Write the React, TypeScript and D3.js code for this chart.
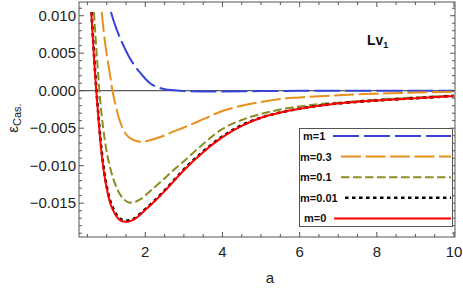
import React from "react";
import * as d3 from "d3";

type P = [number, number];

const seriesNames = ["m=1", "m=0.3", "m=0.1", "m=0.01", "m=0"];

const m1: P[] = [[1.11, 0.0105],[1.2, 0.0090],[1.3, 0.0076],[1.4, 0.0064],[1.55, 0.0048],[1.7, 0.0035],[1.85, 0.0025],[2.0, 0.0016],[2.15, 0.0009],[2.3, 0.0005],[2.5, 0.0002],[2.75, 0.00005],[3.0, -0.00005],[3.5, -0.0001],[4.0, -0.0001],[5.0, -0.00005],[6.0, -0.00002],[8.0, 0.0],[10.0, 0.0]];

const m03: P[] = [[0.87, 0.0105],[0.92, 0.0080],[0.97, 0.0059],[1.03, 0.0039],[1.08, 0.0023],[1.15, 0.0],[1.22, -0.0017],[1.32, -0.0037],[1.42, -0.0051],[1.55, -0.0061],[1.70, -0.0066],[1.88, -0.0068],[2.05, -0.0067],[2.25, -0.0064],[2.53, -0.0059],[2.75, -0.0054],[3.0, -0.0049],[3.5, -0.0038],[4.0, -0.0027],[4.5, -0.0020],[5.0, -0.0015],[5.5, -0.0011],[6.0, -0.0009],[7.0, -0.0006],[8.0, -0.0004],[9.0, -0.00025],[10.0, -0.00012]];

const m01: P[] = [[0.67, 0.0105],[0.72, 0.0064],[0.77, 0.0028],[0.81, 0.0],[0.87, -0.0033],[0.94, -0.0062],[1.02, -0.0087],[1.10, -0.0105],[1.20, -0.0122],[1.32, -0.0136],[1.45, -0.0145],[1.60, -0.01493],[1.75, -0.0148],[1.90, -0.0144],[2.1, -0.0135],[2.3, -0.0126],[2.5, -0.0117],[2.75, -0.0105],[3.0, -0.0094],[3.5, -0.0071],[4.0, -0.0051],[4.5, -0.0039],[5.0, -0.0031],[5.5, -0.0025],[6.0, -0.0021],[6.5, -0.0018],[7.0, -0.0016],[8.0, -0.0012],[9.0, -0.0009],[10.0, -0.00065]];

const m001: P[] = [[0.605, 0.0105],[0.655, 0.0062],[0.705, 0.0021],[0.735, 0.0],[0.785, -0.0033],[0.835, -0.0063],[0.885, -0.0088],[0.935, -0.0108],[1.005, -0.0129],[1.085, -0.0146],[1.175, -0.0158],[1.275, -0.0167],[1.40, -0.0172],[1.54, -0.01732],[1.70, -0.0171],[1.85, -0.0165],[2.0, -0.0158],[2.25, -0.0146],[2.5, -0.0133],[2.75, -0.0119],[3.0, -0.0105],[3.5, -0.0081],[4.0, -0.0061],[4.5, -0.0046],[5.0, -0.0036],[5.5, -0.0029],[6.0, -0.0024],[6.5, -0.0020],[7.0, -0.0017],[8.0, -0.0013],[9.0, -0.0010],[10.0, -0.0007]];

const m0: P[] = [[0.60, 0.0105],[0.65, 0.0062],[0.70, 0.0021],[0.73, 0.0],[0.78, -0.0033],[0.83, -0.0064],[0.88, -0.0089],[0.93, -0.0109],[1.00, -0.0130],[1.08, -0.0148],[1.17, -0.0160],[1.27, -0.0169],[1.40, -0.0174],[1.54, -0.01747],[1.70, -0.0172],[1.85, -0.0166],[2.0, -0.0159],[2.25, -0.0147],[2.5, -0.0134],[2.75, -0.0120],[3.0, -0.0106],[3.5, -0.0082],[4.0, -0.0062],[4.5, -0.0047],[5.0, -0.0036],[5.5, -0.0029],[6.0, -0.0024],[6.5, -0.0020],[7.0, -0.0017],[8.0, -0.0013],[9.0, -0.0010],[10.0, -0.0007]];

const xMajor = [2, 4, 6, 8, 10];
const yMajor = [0.01, 0.005, 0, -0.005, -0.01, -0.015];
const yTickLabels = ["0.010", "0.005", "0.000", "\u22120.005", "\u22120.010", "\u22120.015"];

const seriesData = [m1, m03, m01, m001, m0];
const colors = ["#3543d6", "#e8901c", "#8c8c22", "#000000", "#ff0000"];
const dashes = ["26,5", "20,4.5", "8.5,3.5", "3.5,3.5", "none"];
const widths = [2, 2, 2, 2.6, 2];
const legendTextX = [303, 300, 300, 300, 304];
const legendLineX = [333, 341, 341, 345, 334];

export default function App() {
  const L = 79, R = 455, T = 2, B = 237;
  const x = d3.scaleLinear().domain([0.282, 10.026]).range([L, R]);
  const y = d3.scaleLinear().domain([-0.01951, 0.01183]).range([B, T]);
  const line = d3.line<P>().x(d => x(d[0])).y(d => y(d[1])).curve(d3.curveMonotoneX);

  const xMinor = d3.range(0.5, 10.01, 0.5).filter(v => !xMajor.includes(v));
  const yMinor = d3.range(-19, 12, 1).map(v => v / 1000).filter(v => Math.abs(Math.round(v * 1000) % 5) !== 0);
  const frame = "#555";
  const font = "'Liberation Sans', Arial, sans-serif";

  return (
    <svg width={463} height={290} style={{ position: "absolute", left: 0, top: 0 }} fontFamily={font}>
      <defs>
        <clipPath id="plotclip"><rect x={L} y={T} width={R - L} height={B - T} /></clipPath>
      </defs>
      <rect x={0} y={0} width={463} height={290} fill="#fff" />
      {/* zero line */}
      <line x1={L} x2={R} y1={y(0)} y2={y(0)} stroke="#333" strokeWidth={1} />
      <g clipPath="url(#plotclip)">
        {seriesData.map((d, i) => (
          <path key={i} d={line(d) || ""} fill="none" stroke={colors[i]} strokeWidth={widths[i]}
            strokeDasharray={dashes[i]} />
        ))}
      </g>
      {/* frame */}
      <rect x={L} y={T} width={R - L} height={B - T} fill="none" stroke={frame} strokeWidth={1} />
      {/* x ticks */}
      {xMajor.map(v => (
        <g key={"xM" + v}>
          <line x1={x(v)} x2={x(v)} y1={B} y2={B - 5} stroke={frame} />
          <line x1={x(v)} x2={x(v)} y1={T} y2={T + 5} stroke={frame} />
          <text x={x(v)} y={257} fontSize={15} textAnchor="middle" fill="#222">{v}</text>
        </g>
      ))}
      {xMinor.map(v => (
        <g key={"xm" + v}>
          <line x1={x(v)} x2={x(v)} y1={B} y2={B - 3} stroke={frame} />
          <line x1={x(v)} x2={x(v)} y1={T} y2={T + 3} stroke={frame} />
        </g>
      ))}
      {/* y ticks */}
      {yMajor.map((v, i) => (
        <g key={"yM" + v}>
          <line x1={L} x2={L + 5} y1={y(v)} y2={y(v)} stroke={frame} />
          <line x1={R} x2={R - 5} y1={y(v)} y2={y(v)} stroke={frame} />
          <text x={76} y={y(v) + 5} fontSize={15} textAnchor="end" fill="#222">{yTickLabels[i]}</text>
        </g>
      ))}
      {yMinor.map(v => (
        <g key={"ym" + v}>
          <line x1={L} x2={L + 3} y1={y(v)} y2={y(v)} stroke={frame} />
          <line x1={R} x2={R - 3} y1={y(v)} y2={y(v)} stroke={frame} />
        </g>
      ))}
      {/* axis labels */}
      <text x={270} y={283} fontSize={15} textAnchor="middle" fill="#222">a</text>
      <text transform="translate(18,118) rotate(-90)" fontSize={15} textAnchor="middle" fill="#222">
        ε<tspan fontSize={11} dy={3}>Cas.</tspan>
      </text>
      <text x={367} y={45} fontSize={14} fontWeight="bold" fill="#111">Lv<tspan fontSize={9} dy={3}>1</tspan></text>
      {/* legend */}
      <rect x={299.5} y={128.5} width={153} height={98} fill="#fff" stroke="#555" strokeWidth={1} />
      {seriesNames.map((n, i) => {
        const ly = 136 + i * 20.6;
        return (
          <g key={n}>
            <text x={legendTextX[i]} y={ly + 4} fontSize={11} fontWeight="bold" fill="#111">{n}</text>
            <line x1={legendLineX[i]} x2={451} y1={ly} y2={ly} stroke={colors[i]} strokeWidth={widths[i]}
              strokeDasharray={dashes[i]} />
          </g>
        );
      })}
    </svg>
  );
}
